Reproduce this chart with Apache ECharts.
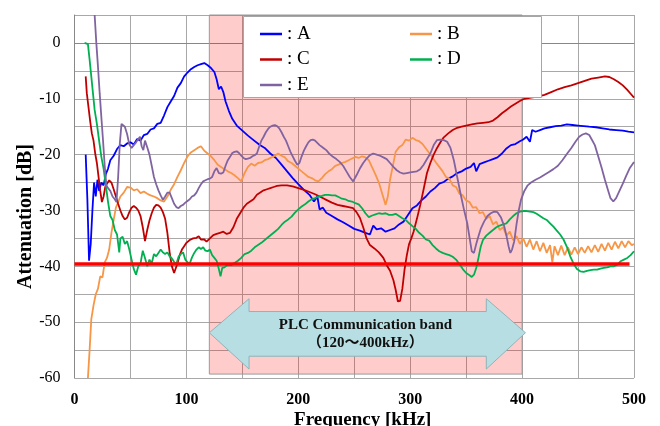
<!DOCTYPE html>
<html>
<head>
<meta charset="utf-8">
<script src="https://cdn.jsdelivr.net/npm/echarts@6/dist/echarts.min.js"></script>
<style>
html, body { margin: 0; padding: 0; background: #fff; }
#main { width: 660px; height: 426px; }
</style>
</head>
<body>
<div id="main"></div>
<script>
// measured curves, [kHz, dB]
var seriesA = [[10,-20],[11.5,-28],[13,-39],[14.5,-36],[16,-30],[17.5,-25],[19,-27.5],[20.5,-24.5],[22,-26.5],[24,-25],[26,-25.5],[28,-23.5],[30,-22.5],[32,-21],[35,-20.2],[38,-19],[41,-18.3],[44,-18.5],[47,-18],[50,-17.8],[53,-18.2],[56,-17.2],[59,-17.5],[62,-16.5],[65,-16.3],[68,-15.5],[71,-15.3],[74,-14.5],[77,-14.3],[80,-13],[83,-11.5],[86,-10.5],[89,-9.5],[92,-8],[95,-7.2],[98,-6],[101,-5.3],[104,-4.7],[107,-4.3],[110,-4.0],[113,-3.8],[116,-3.6],[119,-4.0],[122,-4.5],[125,-5.2],[127,-6.5],[129,-8.3],[131,-7.8],[133,-8.8],[135,-10.5],[138,-12.2],[141,-13.6],[145,-14.8],[150,-15.7],[155,-16.6],[160,-17.4],[165,-18.2],[170,-18.8],[175,-19.8],[180,-20.6],[185,-21.8],[190,-23],[195,-24.2],[200,-25.3],[205,-26.3],[210,-27.2],[214,-28.4],[217,-27.5],[219,-29.8],[222,-29.5],[225,-30.4],[230,-31],[235,-31.6],[240,-32.1],[245,-32.7],[250,-33.3],[255,-33.6],[260,-34.0],[264,-34.3],[267,-32.7],[270,-33.4],[274,-33.2],[278,-33.8],[282,-33.5],[286,-33.2],[290,-32.5],[294,-32],[298,-30.8],[302,-29.6],[306,-29.1],[310,-28.2],[314,-27.5],[318,-26.6],[322,-26.0],[326,-25.2],[330,-24.9],[334,-24.3],[338,-23.9],[342,-23.3],[346,-23.0],[350,-22.5],[354,-22.2],[357,-21.5],[359,-23],[362,-21.7],[366,-21.4],[370,-21.1],[374,-20.8],[378,-20.5],[382,-19.8],[386,-18.9],[390,-18.3],[394,-18.1],[398,-17.6],[401,-17.3],[404,-16.8],[407,-17.7],[409,-15.6],[412,-15.9],[416,-15.6],[420,-15.3],[425,-15.1],[430,-14.9],[435,-14.8],[440,-14.6],[445,-14.7],[450,-14.8],[455,-14.9],[460,-15.0],[466,-15.1],[472,-15.3],[478,-15.5],[484,-15.6],[490,-15.7],[495,-15.9],[500,-16.0]];

var seriesB = [[12,-60],[13.5,-55],[15,-49.5],[17,-47],[19,-45],[21,-44],[23,-41.8],[25,-42],[27,-39.3],[29,-38.5],[31,-37],[33,-34],[35,-31.7],[37,-29.5],[39,-28.5],[41,-27.5],[44,-26.8],[47,-25.8],[50,-25.9],[53,-26.4],[56,-26.2],[59,-26.9],[62,-26.6],[65,-27],[68,-27.3],[71,-27.5],[74,-27.8],[77,-28.2],[80,-28.4],[83,-27.5],[86,-26.3],[89,-25.3],[92,-24],[95,-22.8],[98,-21.5],[101,-20.3],[104,-19.6],[107,-19.2],[110,-18.8],[113,-18.5],[116,-19.3],[119,-19.8],[122,-20.3],[125,-21],[128,-21.8],[131,-22.2],[134,-22.6],[137,-23],[140,-23.3],[143,-23.7],[146,-24.2],[149,-24.8],[152,-23.3],[155,-22.2],[158,-21.6],[161,-22],[164,-21.5],[167,-21.4],[170,-21],[173,-20.8],[176,-20.5],[179,-20.2],[182,-19.8],[185,-20.2],[188,-20.5],[191,-21.2],[194,-21.5],[197,-22],[200,-22.5],[203,-23],[206,-23.5],[209,-24],[212,-24.2],[215,-24.6],[218,-24.8],[221,-24.2],[224,-23.5],[227,-23],[230,-22.6],[233,-22],[236,-21.8],[239,-21.5],[242,-21.3],[245,-21],[248,-20.7],[251,-20.4],[254,-20.6],[257,-20.3],[260,-20.5],[263,-21],[266,-22.3],[269,-23.6],[272,-25],[275,-27],[278,-29],[280,-27.5],[282,-24.5],[284,-22.5],[287,-19.5],[290,-18.7],[293,-18.3],[296,-17.3],[299,-17.5],[302,-17],[305,-17.4],[308,-17.6],[311,-18.1],[314,-18.9],[317,-19.7],[320,-20.5],[323,-21.4],[326,-22.2],[329,-23],[332,-24],[335,-24.3],[338,-25.5],[341,-25.8],[344,-27],[347,-27.3],[350,-28.2],[353,-28.5],[356,-29.5],[359,-29.4],[362,-30.5],[365,-30.3],[368,-31.5],[371,-31],[374,-32.5],[377,-32],[380,-33.5],[383,-33],[386,-34.5],[389,-33.8],[392,-35.3],[395,-34.6],[398,-36],[401,-35],[404,-36.5],[407,-35.2],[410,-37],[413,-35.5],[416,-37.3],[419,-35.8],[422,-37.6],[425,-36.2],[427,-39.3],[429,-36.4],[432,-38],[435,-36.3],[438,-38],[441,-36.6],[444,-37.9],[447,-36.6],[450,-37.8],[453,-36.6],[456,-37.6],[459,-36.4],[462,-37.5],[465,-36.2],[468,-37.4],[471,-36],[474,-37.2],[477,-35.8],[480,-37],[483,-35.6],[486,-36.8],[489,-35.5],[492,-36.6],[495,-35.5],[498,-36.2],[500,-36]];

var seriesC = [[10,-6],[11,-9],[12.5,-11.5],[14,-14],[15.5,-16.2],[17,-17.5],[18.5,-19.8],[20,-21.5],[21.5,-24],[23,-26.5],[24.5,-28.5],[26,-27.5],[27.5,-25.8],[29,-25.2],[31,-24.6],[33,-25],[35,-26.2],[37,-27.5],[39,-28.8],[41,-30],[43,-31],[45,-31.6],[47,-31.3],[49,-30.3],[51,-29.5],[53,-29.2],[55,-29.5],[57,-30],[59,-31],[61,-33],[63,-35.5],[65,-33.5],[67,-31.8],[69,-30.5],[71,-29.5],[73,-29],[75,-29.1],[77,-29.5],[79,-30.3],[81,-31.5],[83,-34],[85,-37.5],[87,-40],[89,-41.2],[90.5,-41.5],[92,-39.5],[94,-38],[96,-37],[98,-36.4],[100,-35.8],[103,-35.3],[106,-35],[109,-34.9],[111,-34.6],[113,-35.2],[116,-35.2],[118,-35.6],[121,-35],[124,-34.4],[127,-34.2],[130,-34],[133,-33.8],[136,-34.2],[139,-34],[142,-33],[145,-31.5],[148,-30.5],[151,-29.5],[154,-28.8],[157,-28.4],[160,-28],[163,-27.2],[166,-26.8],[169,-26.4],[172,-26.2],[175,-26],[178,-25.8],[181,-25.6],[185,-25.5],[190,-25.5],[195,-25.7],[200,-26],[205,-26.3],[210,-26.7],[215,-27.1],[220,-27.6],[225,-28.1],[230,-28.6],[235,-29],[240,-29.2],[245,-29.4],[249,-29.6],[252,-30.3],[255,-31.3],[258,-33],[261,-35],[264,-36.2],[268,-36.8],[272,-37.5],[276,-38.5],[279,-39.8],[282,-40.8],[285,-42.5],[287,-44.2],[289,-46.3],[291,-46.2],[293,-44],[295,-40.5],[297,-38],[299,-36],[301,-35],[303,-33.8],[306,-31.5],[309,-29],[312,-26.2],[315,-23.3],[318,-21.5],[321,-20],[324,-18.8],[327,-17.8],[330,-16.9],[334,-16.2],[338,-15.6],[342,-15.2],[346,-15],[350,-14.8],[355,-14.6],[360,-14.4],[365,-14.3],[370,-14.2],[374,-13.9],[378,-13.3],[382,-12.6],[386,-12],[390,-11.4],[394,-10.9],[398,-10.4],[402,-10],[408,-9.8],[414,-9.6],[420,-9.3],[426,-8.8],[432,-8.3],[438,-7.9],[444,-7.6],[450,-7.2],[456,-6.8],[462,-6.4],[468,-6.2],[474,-6.0],[478,-6.1],[482,-6.5],[486,-7],[490,-7.6],[494,-8.4],[497,-9.1],[500,-9.8]];

var seriesD = [[9,0],[12,-0.2],[13.5,-3],[15,-6],[16.5,-9],[18,-12],[20,-14.5],[22,-17.5],[24,-20.4],[26,-22.5],[28,-25.5],[30,-28.5],[32,-31],[34,-31.7],[36,-33.5],[38,-34.3],[40,-37.5],[41,-35],[43,-34.7],[45,-36],[47,-35.5],[49,-37],[51,-38.8],[53,-40.5],[55,-41.5],[57,-40],[59,-39.5],[61,-37.2],[63,-38.5],[65,-40],[67,-38.8],[69,-39.5],[71,-37.8],[73,-38.2],[75,-37.6],[77,-37],[79,-37.5],[81,-37.8],[83,-37.5],[85,-38.2],[87,-38.6],[89,-39.2],[91,-39.6],[93,-38.3],[95,-37.8],[97,-37.5],[99,-38.8],[101,-39.3],[103,-39.5],[105,-38.4],[107,-37.6],[109,-37],[111,-36.6],[113,-36.9],[115,-36.6],[117,-37.2],[119,-37.3],[121,-37],[123,-38],[125,-38.5],[127,-39],[129,-40.5],[130.5,-41.8],[132,-40.3],[134,-40.2],[137,-39.7],[140,-39.8],[143,-39.4],[146,-39],[149,-38.5],[152,-37.8],[155,-37.6],[158,-37.2],[161,-36.6],[164,-36.2],[167,-35.8],[170,-35.3],[173,-34.8],[176,-34.3],[179,-33.8],[182,-33.3],[185,-32.6],[188,-32],[191,-31.6],[194,-31.1],[197,-30.4],[200,-29.8],[203,-29.3],[206,-28.9],[209,-28.4],[212,-28],[215,-27.8],[218,-27.5],[221,-27.4],[224,-27.2],[227,-27.2],[230,-27.3],[233,-27.3],[236,-27.6],[239,-27.9],[242,-28],[245,-28.3],[248,-28.4],[251,-28.7],[254,-28.9],[257,-29.6],[260,-30.5],[263,-31.2],[266,-30.9],[269,-30.7],[272,-30.5],[275,-30.6],[278,-30.5],[281,-30.8],[284,-30.8],[287,-30.6],[290,-31],[293,-31.4],[296,-31.7],[299,-32.3],[302,-32.8],[305,-33.3],[308,-34],[311,-34.5],[314,-35.2],[317,-35.4],[320,-36.2],[323,-36.8],[326,-37.3],[329,-37.6],[332,-37.8],[335,-38],[338,-38.3],[341,-38.8],[344,-39.6],[347,-40.5],[350,-41.2],[353,-41.6],[355,-41.9],[357,-41.5],[359,-40.3],[361,-38.5],[363,-36.5],[365,-35.3],[368,-34.5],[371,-34],[374,-33.5],[377,-33],[380,-32.7],[383,-32.5],[386,-32.3],[389,-31.6],[392,-31],[395,-30.5],[398,-30.2],[401,-30.1],[404,-30.1],[407,-30.2],[410,-30.3],[413,-30.6],[416,-31],[419,-31.4],[422,-31.7],[425,-32.3],[428,-32.9],[431,-33.6],[434,-34.3],[437,-35.2],[440,-36.5],[443,-38.2],[446,-39.5],[449,-40.5],[452,-40.9],[455,-41],[458,-40.8],[461,-40.7],[464,-40.6],[467,-40.6],[470,-40.4],[473,-40.3],[476,-40.2],[479,-40],[482,-40],[485,-39.7],[488,-39.1],[491,-38.8],[494,-38.5],[497,-38],[500,-37.3]];

var seriesE = [[18,5],[19.5,0],[21,-4.3],[22.5,-9],[24,-13.3],[25.5,-17.5],[27,-22],[28.5,-25.5],[30,-26],[32,-26.5],[34,-27.5],[36,-28],[37.5,-28.5],[39,-24],[40.5,-18],[42,-14.5],[43.5,-14.2],[45,-15],[47,-16.3],[49,-18.2],[51,-18.8],[53,-18.3],[55,-17.8],[57,-17.2],[58.5,-16.8],[60,-18.5],[61.5,-19.2],[63,-17.5],[65,-18.7],[67,-20],[69,-22],[71,-24],[73,-25.3],[75,-26.4],[77,-27.3],[79,-28.1],[81,-27.5],[83,-26.8],[85,-26.8],[87,-27.8],[89,-28.8],[91,-29.4],[93,-29.6],[95,-29.2],[97,-29],[99,-28.6],[101,-28.3],[103,-28],[105,-27.5],[107,-27.3],[109,-26.8],[111,-26],[113,-25.3],[115,-24.8],[117,-24.6],[119,-24.4],[121,-24.3],[123,-24],[125,-23],[127,-22.4],[129,-23.3],[131,-23.4],[133,-23.2],[135,-22],[137,-21],[139,-20.4],[141,-19.7],[143,-19.5],[145,-19.4],[147,-19.7],[149,-20.2],[151,-20.6],[153,-20.8],[155,-20.7],[157,-20.6],[159,-20.3],[161,-20.1],[163,-19.8],[165,-18.6],[167,-17.5],[169,-16.8],[171,-16],[173,-15.4],[175,-15],[177,-14.8],[179,-14.7],[181,-14.9],[183,-15.3],[185,-16],[187,-16.8],[189,-17.5],[191,-18.5],[193,-19.5],[195,-20.3],[197,-21.1],[199,-21.8],[201,-21.5],[203,-20.3],[205,-19.3],[207,-18.5],[209,-17.8],[211,-17.4],[213,-17.3],[215,-17.5],[217,-17.9],[219,-18.3],[221,-18.6],[223,-18.9],[225,-19.2],[228,-19.9],[231,-20.4],[234,-20.8],[237,-21.3],[240,-22],[243,-23],[246,-24],[249,-24.8],[252,-23.7],[255,-22.5],[258,-21.5],[261,-20.7],[264,-20.1],[267,-19.8],[270,-20],[273,-20.2],[276,-20.5],[279,-20.8],[282,-21.5],[285,-22.2],[288,-22.8],[291,-23.2],[294,-23.4],[297,-23.3],[300,-23.2],[303,-23.1],[306,-23],[309,-22.6],[312,-21.8],[315,-20.8],[318,-19.8],[321,-18.3],[324,-17.4],[327,-17.3],[330,-17.4],[333,-17.7],[336,-18.8],[339,-21],[342,-24],[345,-27],[348,-29.8],[351,-32.3],[353,-34.8],[355,-37.3],[357,-37.6],[359,-36],[361,-34.6],[363,-33.3],[366,-32],[369,-31],[372,-30.5],[375,-30.2],[378,-30.3],[381,-31.2],[384,-32.8],[386,-34.5],[388,-36.5],[389.5,-37.6],[391,-37],[393,-35.5],[395,-32.5],[397,-30],[399,-28.1],[402,-26.5],[405,-25.5],[408,-25],[412,-24.5],[416,-24.1],[420,-23.6],[424,-23.1],[428,-22.6],[432,-22],[436,-21],[440,-19.9],[444,-18.8],[448,-17.6],[451,-16.8],[454,-16.4],[457,-16.2],[460,-16.5],[462,-17.2],[465,-18.3],[468,-20.3],[471,-22.3],[474,-24.5],[477,-26.5],[479,-27.8],[481.5,-28.4],[484,-27.8],[487,-26.5],[490,-25.2],[493,-23.8],[496,-22.5],[500,-21.3]];

// reference level line (red)
var refLine = [[0,-39.6],[496,-39.6]];

// PLC band 120-400 kHz
var bandX = [120.5, 400];
var bandY = [5, -59.3];
var arrowX = [120.5, 156, 368, 403];
var arrowY = [-45.8, -48.1, -51.9, -56.1, -58.4];
var bandText = 'PLC Communication band\n（120～400kHz）';

var names = ['A', 'B', 'C', 'D', 'E'];
var colors = ['#0000FF', '#F79646', '#C00000', '#00B050', '#8064A2'];
var curves = [seriesA, seriesB, seriesC, seriesD, seriesE];

var serif = '"Liberation Serif", "Times New Roman", serif';
var chart = echarts.init(document.getElementById('main'));

var series = [{
    name: 'band',
    type: 'line',
    data: [],
    z: 1,
    silent: true,
    markArea: {
        silent: true,
        itemStyle: { color: 'rgba(255,0,0,0.2)', borderColor: '#9a9a9a', borderWidth: 1 },
        data: [[{ coord: [bandX[0], bandY[0]] }, { coord: [bandX[1], bandY[1]] }]]
    }
}];
names.forEach(function (n, i) {
    series.push({
        name: n,
        type: 'line',
        data: curves[i],
        color: colors[i],
        symbol: 'none',
        z: 3,
        lineStyle: { width: 1.8, color: colors[i] }
    });
});
series.push({
    name: 'ref',
    type: 'line',
    data: refLine,
    symbol: 'none',
    z: 5,
    lineStyle: { width: 3.5, color: '#FF0000' }
});

var legendBase = {
    orient: 'vertical',
    top: 19,
    itemWidth: 22,
    itemHeight: 2.5,
    itemGap: 5.5,
    icon: 'rect',
    selectedMode: false,
    z: 20,
    formatter: function (n) { return ': ' + n; },
    textStyle: { fontFamily: serif, fontSize: 19, color: '#000', lineHeight: 20 }
};

chart.setOption({
    animation: false,
    grid: { left: 74.5, right: 26, top: 15, bottom: 48, outerBoundsMode: 'none', containLabel: false },
    legend: [
        Object.assign({}, legendBase, { data: ['A', 'C', 'E'], left: 255 }),
        Object.assign({}, legendBase, { data: ['B', 'D'], left: 405 })
    ],
    xAxis: {
        type: 'value',
        min: 0,
        max: 500,
        interval: 50,
        name: 'Frequency [kHz]',
        nameLocation: 'middle',
        nameGap: 33,
        nameMoveOverlap: false,
        nameTextStyle: { fontFamily: serif, fontSize: 19, fontWeight: 'bold', color: '#000', padding: [0, 0, 0, 17] },
        axisLine: { lineStyle: { color: '#888' } },
        axisTick: { show: false },
        axisLabel: {
            margin: 14,
            fontFamily: serif, fontSize: 16, fontWeight: 'bold', color: '#000',
            formatter: function (v) { return v % 100 === 0 ? String(v) : ''; }
        },
        splitLine: { lineStyle: { color: '#a8a8a8', width: 1 } }
    },
    yAxis: {
        type: 'value',
        min: -60,
        max: 5,
        interval: 5,
        name: 'Attenuation [dB]',
        nameLocation: 'middle',
        nameGap: 39,
        nameMoveOverlap: false,
        nameTextStyle: { fontFamily: serif, fontSize: 20, fontWeight: 'bold', color: '#000', padding: [0, 40, 0, 0] },
        axisLine: { show: true, lineStyle: { color: '#888' } },
        axisTick: { show: false },
        axisLabel: {
            margin: 14,
            fontFamily: serif, fontSize: 16, color: '#000',
            formatter: function (v) { return v % 10 === 0 ? String(v) : ''; }
        },
        splitLine: { lineStyle: { color: '#a8a8a8', width: 1 } }
    },
    series: series
});

// arrow and legend frame, placed through the axes
function px(x, y) { return chart.convertToPixel({ gridIndex: 0 }, [x, y]); }
var arrowPts = [
    px(arrowX[0], arrowY[2]),
    px(arrowX[1], arrowY[0]),
    px(arrowX[1], arrowY[1]),
    px(arrowX[2], arrowY[1]),
    px(arrowX[2], arrowY[0]),
    px(arrowX[3], arrowY[2]),
    px(arrowX[2], arrowY[4]),
    px(arrowX[2], arrowY[3]),
    px(arrowX[1], arrowY[3]),
    px(arrowX[1], arrowY[4])
];
var textPos = px(260, (arrowY[1] + arrowY[3]) / 2);

chart.setOption({
    graphic: [
        {
            type: 'rect', z: 10, silent: true,
            shape: { x: 243.5, y: 16.5, width: 298, height: 81 },
            style: { fill: '#fff', stroke: '#a6a6a6', lineWidth: 1 }
        },
        {
            type: 'polygon', z: 10, silent: true,
            shape: { points: arrowPts },
            style: { fill: '#B7DEE3', stroke: '#8fb3b8', lineWidth: 1 }
        },
        {
            type: 'text', z: 11, silent: true,
            x: textPos[0], y: textPos[1],
            style: {
                text: bandText,
                fill: '#111',
                font: 'bold 15px "Liberation Serif", "Noto Sans CJK JP", serif',
                align: 'center',
                verticalAlign: 'middle',
                lineHeight: 18
            }
        }
    ]
});
</script>
</body>
</html>
